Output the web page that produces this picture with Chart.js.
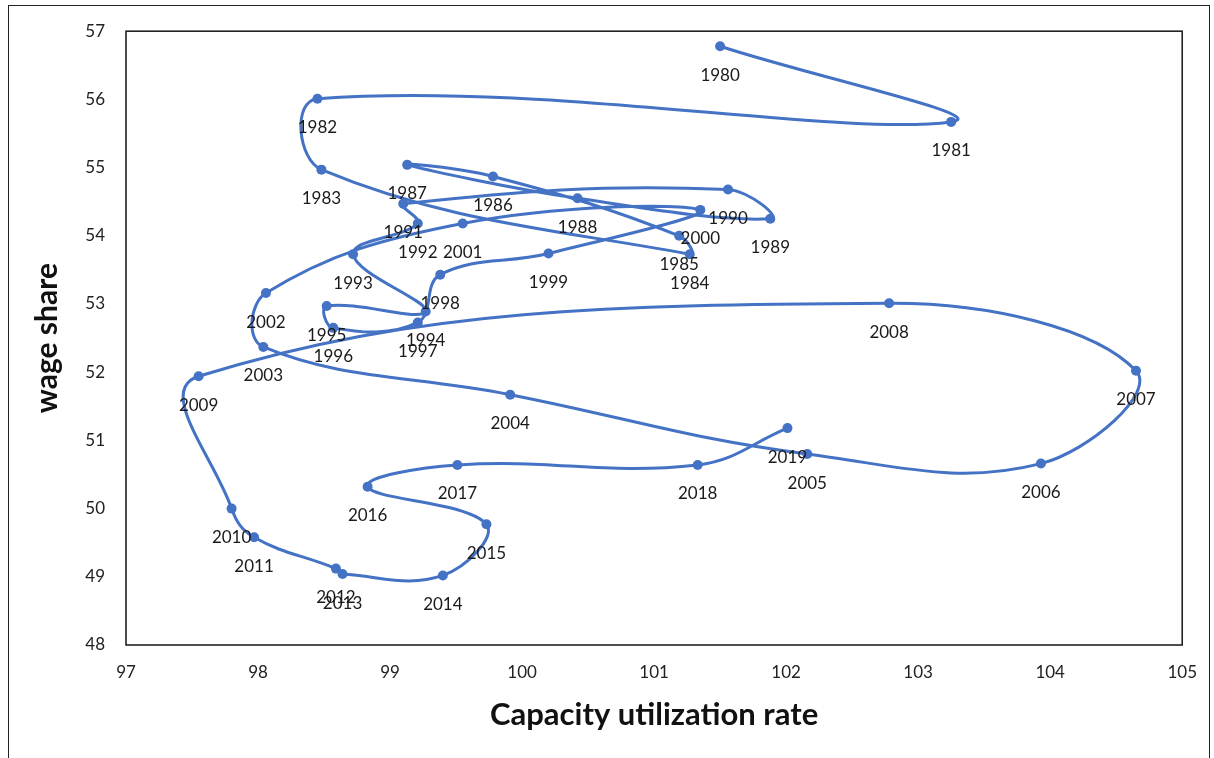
<!DOCTYPE html>
<html>
<head>
<meta charset="utf-8">
<script src="https://cdn.jsdelivr.net/npm/chart.js@4.4.1/dist/chart.umd.min.js"></script>
<style>
html,body{margin:0;padding:0;background:#fff;}
#wrap{position:relative;width:1214px;height:758px;overflow:hidden;}
#frame{position:absolute;left:8px;top:5px;width:1200px;height:800px;border:1px solid #222;}
canvas{position:absolute;left:0;top:0;}
</style>
</head>
<body>
<div id="wrap"><div id="frame"></div><canvas id="c" width="1214" height="758"></canvas></div>
<script>
// year of each point, in path order
const years = [1980, 1981, 1982, 1983, 1984, 1985, 1986, 1987, 1988, 1989,
  1990, 1991, 1992, 1993, 1994, 1995, 1996, 1997, 1998, 1999,
  2000, 2001, 2002, 2003, 2004, 2005, 2006, 2007, 2008, 2009,
  2010, 2011, 2012, 2013, 2014, 2015, 2016, 2017, 2018, 2019];

// capacity utilization rate (x)
const utilization = [101.50, 103.25, 98.45, 98.48, 101.27, 101.19, 99.78, 99.13, 100.42, 101.88,
  101.56, 99.10, 99.21, 98.72, 99.27, 98.52, 98.57, 99.21, 99.38, 100.20,
  101.35, 99.55, 98.06, 98.04, 99.91, 102.16, 103.93, 104.65, 102.78, 97.55,
  97.80, 97.97, 98.59, 98.64, 99.40, 99.73, 98.83, 99.51, 101.33, 102.01];

// wage share (y)
const wageShare = [56.78, 55.67, 56.01, 54.97, 53.73, 54.00, 54.87, 55.04, 54.55, 54.25,
  54.68, 54.47, 54.18, 53.73, 52.89, 52.97, 52.65, 52.73, 53.43, 53.74,
  54.38, 54.18, 53.16, 52.37, 51.67, 50.80, 50.66, 52.02, 53.01, 51.94,
  50.00, 49.58, 49.12, 49.04, 49.02, 49.77, 50.32, 50.64, 50.64, 51.18];

const xTicks = [97, 98, 99, 100, 101, 102, 103, 104, 105];
const yTicks = [48, 49, 50, 51, 52, 53, 54, 55, 56, 57];

const blue = '#4472C4';
const labelFont = 'Lato, "Open Sans", sans-serif';

const points = years.map((y, i) => ({ x: utilization[i], y: wageShare[i] }));

// year labels under every point
const yearLabels = {
  id: 'yearLabels',
  afterDatasetsDraw(chart){
    const ctx = chart.ctx;
    const meta = chart.getDatasetMeta(0);
    ctx.save();
    ctx.font = '17px ' + labelFont;
    ctx.fillStyle = '#1a1a1a';
    ctx.textAlign = 'center';
    ctx.textBaseline = 'middle';
    meta.data.forEach((pt, i) => ctx.fillText(String(years[i]), pt.x, pt.y + 29));
    ctx.restore();
  }
};

// box round the plot area
const plotFrame = {
  id: 'plotFrame',
  beforeDatasetsDraw(chart){
    const { left, top, width, height } = chart.chartArea;
    const ctx = chart.ctx;
    ctx.save();
    ctx.strokeStyle = '#222';
    ctx.lineWidth = 1.6;
    ctx.strokeRect(left, top, width, height);
    ctx.restore();
  }
};

new Chart(document.getElementById('c').getContext('2d'), {
  type: 'scatter',
  data: {
    datasets: [{
      data: points,
      showLine: true,
      tension: 0.4,
      borderColor: blue,
      borderWidth: 3,
      backgroundColor: blue,
      pointRadius: 5,
      pointBorderWidth: 0,
      pointBackgroundColor: blue
    }]
  },
  options: {
    responsive: false,
    animation: false,
    devicePixelRatio: 1,
    layout: { padding: { left: 0, top: 29, right: 30, bottom: 0 } },
    plugins: { legend: { display: false }, tooltip: { enabled: false } },
    scales: {
      x: {
        type: 'linear',
        min: xTicks[0],
        max: xTicks[xTicks.length - 1],
        ticks: { stepSize: 1, color: '#222', font: { size: 17, family: labelFont }, padding: 17 },
        grid: { display: false, drawTicks: false },
        border: { display: false },
        title: {
          display: true,
          text: 'Capacity utilization rate',
          color: '#111',
          font: { size: 31, weight: 'bold', family: labelFont },
          padding: { top: 0, bottom: 24 }
        },
        afterFit(s){ s.height = 113; }
      },
      y: {
        type: 'linear',
        min: yTicks[0],
        max: yTicks[yTicks.length - 1],
        ticks: { stepSize: 1, color: '#222', font: { size: 17, family: labelFont }, padding: 21 },
        grid: { display: false, drawTicks: false },
        border: { display: false },
        title: {
          display: true,
          text: 'wage share',
          color: '#111',
          font: { size: 30, weight: 'bold', family: labelFont },
          padding: { top: 29, bottom: 0 }
        },
        afterFit(s){ s.width = 126; }
      }
    }
  },
  plugins: [plotFrame, yearLabels]
});
</script>
</body>
</html>
